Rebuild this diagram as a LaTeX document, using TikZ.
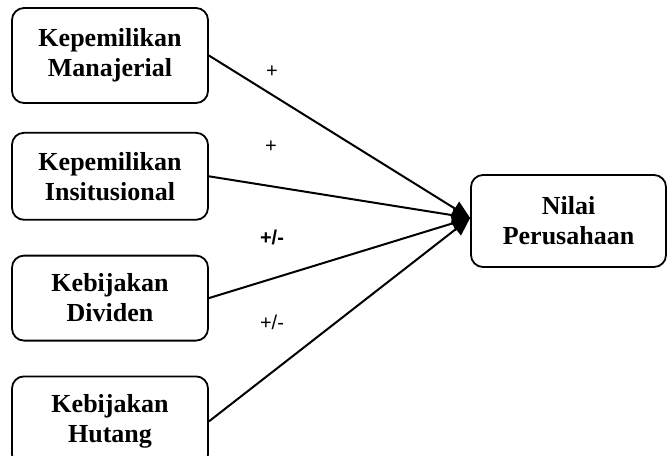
\documentclass[tikz,border=0pt]{standalone}
\usepackage{fontspec}
\setmainfont{Liberation Serif}
\setsansfont{Liberation Sans}
\usetikzlibrary{arrows.meta,positioning}
\tikzset{
  varbox/.style={draw=black, rounded corners=12pt, line width=1.8pt,
    align=center, minimum width=196pt, inner sep=2pt,
    font=\bfseries\fontsize{26}{30}\selectfont},
  effect/.style={-{Triangle[length=18pt, width=16pt]}, line width=2pt, draw=black},
  signlabel/.style={font=\sffamily\fontsize{20}{22}\selectfont, inner sep=0pt},
  boldsign/.style={signlabel, font=\sffamily\bfseries\fontsize{20}{22}\selectfont}
}
\begin{document}
\begin{tikzpicture}[x=1pt, y=-1pt, node distance=28pt]
  \useasboundingbox (0,0) rectangle (671,455);
  \clip (0,0) rectangle (671,455);

  \node[varbox, minimum height=95pt] (manajerial) at (110,55.5) {Kepemilikan\\Manajerial};
  \node[varbox, minimum height=87pt, below=28pt of manajerial] (institusional) {Kepemilikan\\Insitusional};
  \node[varbox, minimum height=85pt, below=34pt of institusional] (dividen) {Kebijakan\\Dividen};
  \node[varbox, minimum height=90pt, below=34pt of dividen] (hutang) {Kebijakan\\Hutang};

  \node[varbox, minimum width=195pt, minimum height=92pt] (nilai) at (568.5,221) {Nilai\\Perusahaan};
  \coordinate (tip) at ([yshift=3pt]nilai.west);

  \foreach \src in {manajerial,institusional,dividen,hutang}{
    \draw[effect] (\src.east) -- (tip);
  }

  \node[signlabel] (s1) at (272,72) {+};
  \node[signlabel] (s2) at (271,147) {+};
  \node[boldsign] (s3) at (272,237) {+/-};
  \node[signlabel] (s4) at (272,322) {+/-};
\end{tikzpicture}
\end{document}
